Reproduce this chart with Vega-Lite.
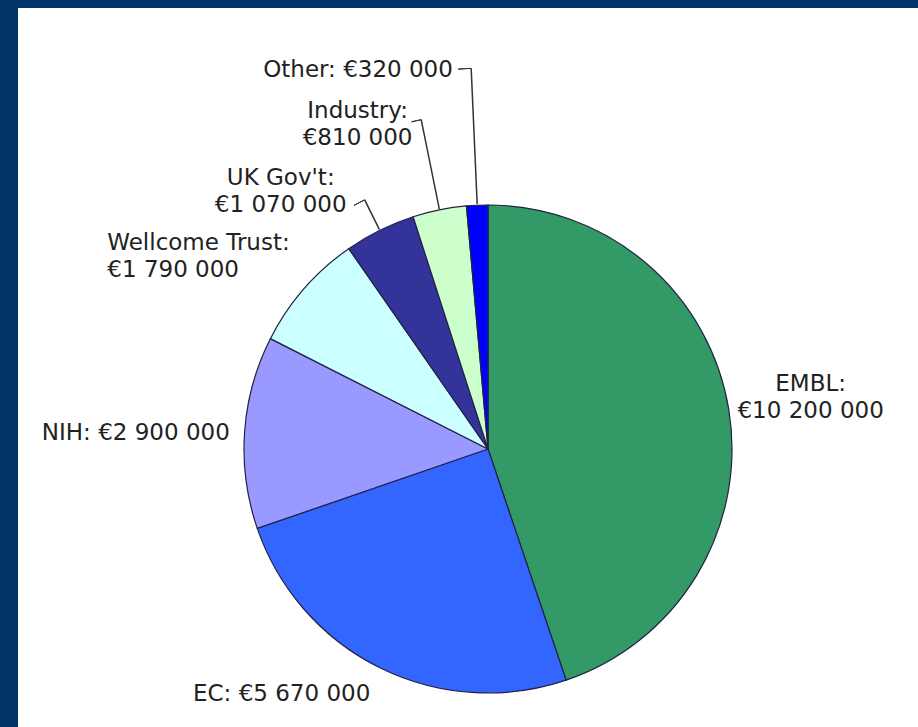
{
  "$schema": "https://vega.github.io/schema/vega-lite/v6.json",
  "autosize": {"type": "none"},
  "padding": {"left": 0, "top": -10, "right": -58, "bottom": -181},
  "width": 976,
  "height": 918,
  "background": "#FFFFFF",
  "view": {"fill": "#FFFFFF", "stroke": "#003366", "strokeWidth": 36},
  "data": {
    "values": [
      {"source": "EMBL", "amount": 10200000, "label": "EMBL:\n€10 200 000"},
      {"source": "EC", "amount": 5670000, "label": "EC: €5 670 000"},
      {"source": "NIH", "amount": 2900000, "label": "NIH: €2 900 000"},
      {"source": "Wellcome Trust", "amount": 1790000, "label": "Wellcome Trust:\n€1 790 000"},
      {"source": "UK Gov't", "amount": 1070000, "label": "UK Gov't:\n€1 070 000"},
      {"source": "Industry", "amount": 810000, "label": "Industry:\n€810 000"},
      {"source": "Other", "amount": 320000, "label": "Other: €320 000"}
    ]
  },
  "resolve": {"scale": {"theta": "independent"}},
  "encoding": {
    "theta": {"field": "amount", "type": "quantitative", "stack": true},
    "order": {"field": "amount", "type": "quantitative", "sort": "descending"}
  },
  "layer": [
    {
      "mark": {"type": "arc", "outerRadius": 244, "stroke": "#222244", "strokeWidth": 1.2},
      "encoding": {
        "color": {
          "field": "source",
          "type": "nominal",
          "legend": null,
          "scale": {
            "domain": ["EMBL", "EC", "NIH", "Wellcome Trust", "UK Gov't", "Industry", "Other"],
            "range": ["#339966", "#3366FF", "#9999FF", "#CCFFFF", "#333399", "#CCFFCC", "#0000FF"]
          }
        }
      }
    },
    {
      "mark": {"type": "arc", "filled": false, "color": "#333333", "strokeWidth": 1.5, "innerRadius": 245, "outerRadius": 381, "padAngle": 0.3},
      "encoding": {"strokeOpacity": {"condition": {"test": "datum.source === 'Other'", "value": 1}, "value": 0}}
    },
    {
      "mark": {"type": "arc", "filled": false, "color": "#333333", "strokeWidth": 1.5, "innerRadius": 245, "outerRadius": 336, "padAngle": 0.3},
      "encoding": {"strokeOpacity": {"condition": {"test": "datum.source === 'Industry'", "value": 1}, "value": 0}}
    },
    {
      "mark": {"type": "arc", "filled": false, "color": "#333333", "strokeWidth": 1.5, "innerRadius": 245, "outerRadius": 278, "padAngle": 0.3},
      "encoding": {"strokeOpacity": {"condition": {"test": "datum.source === \"UK Gov't\"", "value": 1}, "value": 0}}
    },
    {
      "mark": {"type": "arc", "filled": false, "color": "#333333", "strokeWidth": 1, "innerRadius": 381, "outerRadius": 381, "padAngle": 0.0383},
      "encoding": {
        "theta": {"field": "amount", "type": "quantitative", "stack": true, "scale": {"range": [-0.0171, 6.2661]}},
        "strokeOpacity": {"condition": {"test": "datum.source === 'Other'", "value": 1}, "value": 0}
      }
    },
    {
      "mark": {"type": "arc", "filled": false, "color": "#333333", "strokeWidth": 1, "innerRadius": 336, "outerRadius": 336, "padAngle": 0.1369},
      "encoding": {
        "theta": {"field": "amount", "type": "quantitative", "stack": true, "scale": {"range": [-0.0149, 6.2683]}},
        "strokeOpacity": {"condition": {"test": "datum.source === 'Industry'", "value": 1}, "value": 0}
      }
    },
    {
      "mark": {"type": "arc", "filled": false, "color": "#333333", "strokeWidth": 1, "innerRadius": 278, "outerRadius": 278, "padAngle": 0.1778},
      "encoding": {
        "theta": {"field": "amount", "type": "quantitative", "stack": true, "scale": {"range": [-0.0216, 6.2616]}},
        "strokeOpacity": {"condition": {"test": "datum.source === \"UK Gov't\"", "value": 1}, "value": 0}
      }
    },
    {
      "mark": {"type": "text", "radius": 330, "dx": -3, "dy": -11, "font": "DejaVu Sans", "fontSize": 23, "fill": "#222222", "lineBreak": "\n", "lineHeight": 27, "align": "center", "baseline": "middle"},
      "encoding": {"text": {"condition": {"test": "datum.source === 'EMBL'", "field": "label"}, "value": ""}}
    },
    {
      "mark": {"type": "text", "radius": 309, "dx": -70, "dy": -32, "font": "DejaVu Sans", "fontSize": 23, "fill": "#222222", "lineBreak": "\n", "lineHeight": 27, "align": "center", "baseline": "middle"},
      "encoding": {"text": {"condition": {"test": "datum.source === 'EC'", "field": "label"}, "value": ""}}
    },
    {
      "mark": {"type": "text", "radius": 338, "dx": -15, "dy": 7, "font": "DejaVu Sans", "fontSize": 23, "fill": "#222222", "lineBreak": "\n", "lineHeight": 27, "align": "center", "baseline": "middle"},
      "encoding": {"text": {"condition": {"test": "datum.source === 'NIH'", "field": "label"}, "value": ""}}
    },
    {
      "mark": {"type": "text", "radius": 343, "dx": -122, "dy": 19.5, "font": "DejaVu Sans", "fontSize": 23, "fill": "#222222", "lineBreak": "\n", "lineHeight": 27, "align": "left", "baseline": "middle"},
      "encoding": {"text": {"condition": {"test": "datum.source === 'Wellcome Trust'", "field": "label"}, "value": ""}}
    },
    {
      "mark": {"type": "text", "radius": 323, "dx": -64, "dy": 18, "font": "DejaVu Sans", "fontSize": 23, "fill": "#222222", "lineBreak": "\n", "lineHeight": 27, "align": "center", "baseline": "middle"},
      "encoding": {"text": {"condition": {"test": "datum.source === \"UK Gov't\"", "field": "label"}, "value": ""}}
    },
    {
      "mark": {"type": "text", "radius": 344, "dx": -62, "dy": -1, "font": "DejaVu Sans", "fontSize": 23, "fill": "#222222", "lineBreak": "\n", "lineHeight": 27, "align": "center", "baseline": "middle"},
      "encoding": {"text": {"condition": {"test": "datum.source === 'Industry'", "field": "label"}, "value": ""}}
    },
    {
      "mark": {"type": "text", "radius": 384, "dx": -113, "dy": 5, "font": "DejaVu Sans", "fontSize": 23, "fill": "#222222", "lineBreak": "\n", "lineHeight": 27, "align": "center", "baseline": "middle"},
      "encoding": {"text": {"condition": {"test": "datum.source === 'Other'", "field": "label"}, "value": ""}}
    }
  ]
}
